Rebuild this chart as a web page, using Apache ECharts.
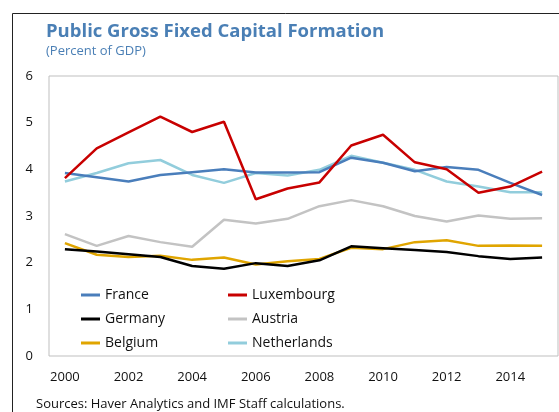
<!DOCTYPE html>
<html>
<head>
  <meta charset="UTF-8">
  <title>Public Gross Fixed Capital Formation</title>
  <script src="https://cdn.jsdelivr.net/npm/echarts@6/dist/echarts.min.js"></script>
  <style>
  html, body { margin: 0; padding: 0; background: #fff; }
  #chart { width: 559px; height: 412px; }
  </style>
</head>
<body>
  <div id="chart"></div>
<script>
var years = ['2000', '2001', '2002', '2003', '2004', '2005', '2006', '2007',
  '2008', '2009', '2010', '2011', '2012', '2013', '2014', '2015'];

var france = [3.92, 3.83, 3.74, 3.88, 3.94, 4.0, 3.93, 3.93, 3.94, 4.25, 4.14, 3.96, 4.05, 3.99, 3.71, 3.45];
var luxembourg = [3.81, 4.45, 4.79, 5.13, 4.8, 5.02, 3.36, 3.59, 3.72, 4.51, 4.74, 4.15, 4.0, 3.5, 3.63, 3.95];
var germany = [2.29, 2.24, 2.18, 2.12, 1.93, 1.87, 1.99, 1.93, 2.05, 2.35, 2.31, 2.27, 2.23, 2.14, 2.08, 2.11];
var austria = [2.61, 2.36, 2.57, 2.44, 2.34, 2.92, 2.84, 2.94, 3.21, 3.34, 3.21, 3.0, 2.88, 3.01, 2.94, 2.95];
var belgium = [2.42, 2.17, 2.12, 2.15, 2.06, 2.11, 1.96, 2.03, 2.08, 2.32, 2.29, 2.44, 2.48, 2.36, 2.37, 2.36];
var netherlands = [3.74, 3.92, 4.13, 4.2, 3.88, 3.71, 3.92, 3.87, 3.99, 4.29, 4.14, 3.99, 3.74, 3.63, 3.51, 3.51];

var font = '"Open Sans", "Noto Sans", sans-serif';
var blueTitle = '#4a7fb5';

var chart = echarts.init(document.getElementById('chart'));

function line(name, data, color) {
  return {
    name: name,
    type: 'line',
    data: data,
    symbol: 'none',
    lineStyle: { width: 2.5, color: color },
    itemStyle: { color: color }
  };
}

var option = {
  animation: false,
  textStyle: { fontFamily: font },
  title: {
    text: 'Public Gross Fixed Capital Formation',
    subtext: '(Percent of GDP)',
    left: 41,
    top: 17,
    itemGap: 4,
    textStyle: { fontFamily: font, fontSize: 18.5, fontWeight: 'bold', color: blueTitle },
    subtextStyle: { fontFamily: font, fontSize: 13, color: blueTitle }
  },
  legend: {
    left: 76,
    top: 279,
    width: 300,
    orient: 'horizontal',
    itemGap: 2,
    itemWidth: 19,
    itemHeight: 3,
    icon: 'rect',
    data: ['France', 'Luxembourg', 'Germany', 'Austria', 'Belgium', 'Netherlands'],
    textStyle: {
      fontFamily: font, fontSize: 14, color: '#111',
      width: 121, overflow: 'truncate', lineHeight: 22
    }
  },
  grid: {
    left: 49,
    right: 1,
    top: 76,
    bottom: 56,
    show: true,
    borderColor: '#bfbfbf',
    borderWidth: 1
  },
  xAxis: {
    type: 'category',
    data: years,
    boundaryGap: true,
    axisLine: { show: false },
    axisTick: { show: false },
    axisLabel: {
      interval: 1,
      margin: 15,
      fontSize: 13,
      color: '#111',
      fontFamily: font
    }
  },
  yAxis: {
    type: 'value',
    min: 0,
    max: 6,
    interval: 1,
    splitLine: { show: false },
    axisLine: { show: false },
    axisTick: { show: false },
    axisLabel: { margin: 16, fontSize: 13, color: '#111', fontFamily: font }
  },
  graphic: [
    {
      type: 'line',
      shape: { x1: 12.5, y1: 13.5, x2: 559, y2: 13.5 },
      style: { stroke: '#222', lineWidth: 1 }
    },
    {
      type: 'line',
      shape: { x1: 12.5, y1: 13.5, x2: 12.5, y2: 412 },
      style: { stroke: '#222', lineWidth: 1 }
    },
    {
      type: 'text',
      left: 36,
      top: 398,
      style: {
        text: 'Sources: Haver Analytics and IMF Staff calculations.',
        font: '13px ' + font,
        fill: '#111'
      }
    }
  ],
  series: [
    line('Austria', austria, '#c3c3c3'),
    line('Belgium', belgium, '#e0a500'),
    line('Germany', germany, '#000000'),
    line('Netherlands', netherlands, '#92cddc'),
    line('France', france, '#4a7ebb'),
    line('Luxembourg', luxembourg, '#c80000')
  ]
};

chart.setOption(option);
</script>
</body>
</html>
